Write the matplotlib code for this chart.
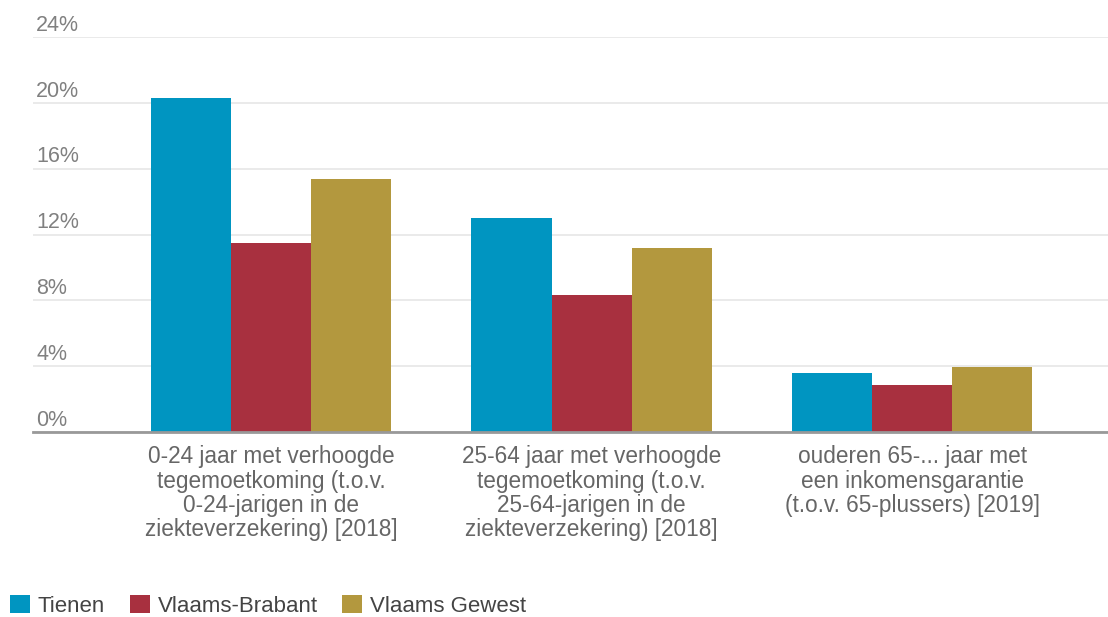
import matplotlib
matplotlib.use("Agg")
import matplotlib.pyplot as plt
from matplotlib.patches import Patch
import numpy as np

categories = [
    "0-24 jaar met verhoogde\ntegemoetkoming (t.o.v.\n0-24-jarigen in de\nziekteverzekering) [2018]",
    "25-64 jaar met verhoogde\ntegemoetkoming (t.o.v.\n25-64-jarigen in de\nziekteverzekering) [2018]",
    "ouderen 65-... jaar met\neen inkomensgarantie\n(t.o.v. 65-plussers) [2019]",
]
series_names = ["Tienen", "Vlaams-Brabant", "Vlaams Gewest"]
tienen = [20.3, 13.0, 3.6]
vlaams_brabant = [11.5, 8.3, 2.85]
vlaams_gewest = [15.4, 11.2, 3.93]
yticks = [0, 4, 8, 12, 16, 20, 24]
ytick_labels = ["0%", "4%", "8%", "12%", "16%", "20%", "24%"]

colors = ["#0095C1", "#A8303F", "#B3983E"]

plt.rcParams['font.family'] = ['Liberation Sans', 'DejaVu Sans']

W, H = 1108, 617
fig = plt.figure(figsize=(W / 100, H / 100), dpi=100)
ax = fig.add_axes([33 / W, (H - 432) / H, (W - 33) / W, (432 - 37) / H])

x = np.arange(len(categories))
bw = 0.25
for i, (vals, c) in enumerate(zip([tienen, vlaams_brabant, vlaams_gewest], colors)):
    ax.bar(x + (i - 1) * bw, vals, width=bw, color=c, zorder=3)

ax.set_xlim(-0.743, 2.611)
ax.set_ylim(0, 24)
ax.set_yticks(yticks)
ax.set_yticklabels([])
ax.tick_params(axis='both', length=0)
ax.set_xticks([])
for s in ['top', 'right', 'left']:
    ax.spines[s].set_visible(False)
ax.spines['bottom'].set_color('#999999')
ax.spines['bottom'].set_linewidth(2)
ax.spines['bottom'].set_zorder(4)
ax.grid(axis='y', color='#E6E6E6', linewidth=1.2, zorder=0)

for v, lab in zip(yticks, ytick_labels):
    ax.text(0.003, v + 0.08, lab, transform=ax.get_yaxis_transform(), ha='left', va='bottom',
            fontsize=15.5, color='#808080')

for xi, lab in zip(x, categories):
    ax.text(xi, -0.8, lab, ha='center', va='top', fontsize=16.3, color='#666666',
            linespacing=1.08)

handles = [Patch(facecolor=c, edgecolor='none') for c in colors]
fig.legend(handles, series_names, loc='center left', bbox_to_anchor=(10 / W, 11 / H), ncol=3,
           frameon=False, fontsize=16, handlelength=0.9, handleheight=0.85,
           handletextpad=0.36, columnspacing=1.1, labelcolor='#444444', borderaxespad=0,
           borderpad=0)

fig.savefig("out.png", dpi=100)
